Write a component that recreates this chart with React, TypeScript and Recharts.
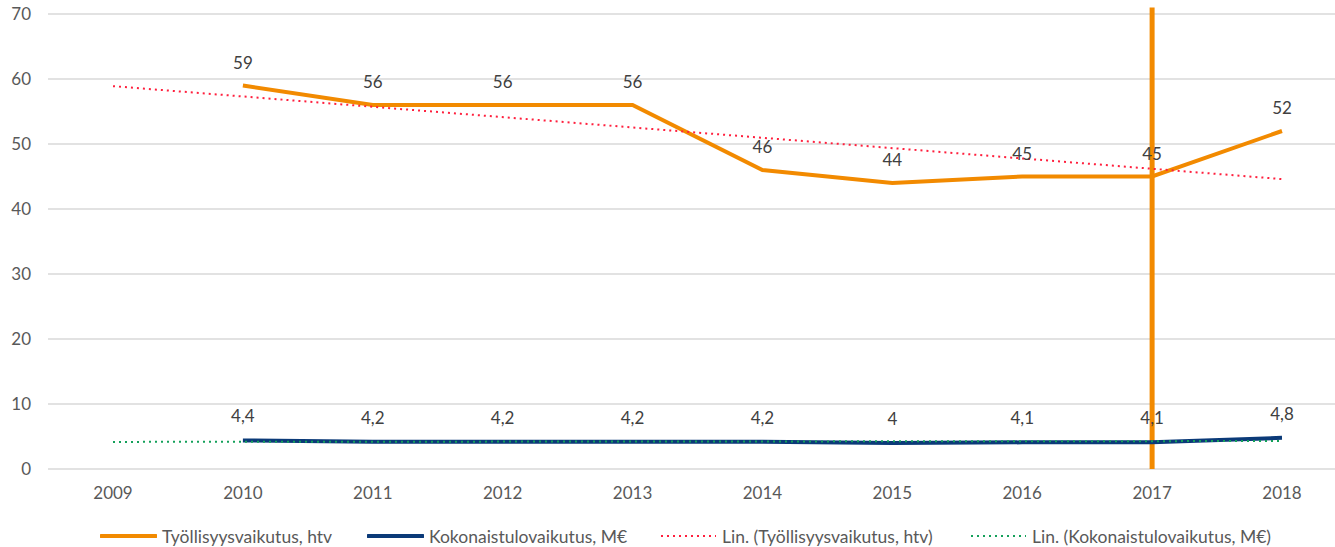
import { LineChart, Line, XAxis, YAxis, CartesianGrid, Legend, LabelList, ReferenceLine } from "recharts";

const years = ["2009", "2010", "2011", "2012", "2013", "2014", "2015", "2016", "2017", "2018"];
const employment = [null, 59, 56, 56, 56, 46, 44, 45, 45, 52];
const income = [null, 4.4, 4.2, 4.2, 4.2, 4.2, 4.0, 4.1, 4.1, 4.8];
// trend lines at their ends
const employmentTrend = [58.9, null, null, null, null, null, null, null, null, 44.6];
const incomeTrend = [4.17, null, null, null, null, null, null, null, null, 4.3];
const yTicks = [0, 10, 20, 30, 40, 50, 60, 70];

const ORANGE = "#F28A00";
const NAVY = "#0B3A78";
const RED = "#FF1F3D";
const GREEN = "#14A05A";
const FONT = "Lato, 'Open Sans', sans-serif";

const data = years.map((year, i) => ({
  year,
  employment: employment[i],
  income: income[i],
  employmentTrend: employmentTrend[i],
  incomeTrend: incomeTrend[i],
}));

const fmt = (v: any) => (v == null ? "" : String(v).replace(".", ","));

const legendItems = [
  { label: "Työllisyysvaikutus, htv", color: ORANGE, dotted: false, left: 100 },
  { label: "Kokonaistulovaikutus, M€", color: NAVY, dotted: false, left: 367 },
  { label: "Lin. (Työllisyysvaikutus, htv)", color: RED, dotted: true, left: 660 },
  { label: "Lin. (Kokonaistulovaikutus, M€)", color: GREEN, dotted: true, left: 970 },
];

const ChartLegend = () => (
  <div style={{ position: "relative", height: 24, fontFamily: FONT, fontSize: 17.5, color: "#595959" }}>
    {legendItems.map((it) => (
      <div key={it.label} style={{ position: "absolute", left: it.left, top: 0, height: 24, display: "flex", alignItems: "center", gap: 5, whiteSpace: "nowrap" }}>
        <svg width={57} height={8}>
          <line
            x1={1}
            y1={4}
            x2={56}
            y2={4}
            stroke={it.color}
            strokeWidth={it.dotted ? 2 : 4}
            strokeDasharray={it.dotted ? "2 4" : undefined}
            strokeLinecap={it.dotted ? "butt" : "round"}
          />
        </svg>
        <span>{it.label}</span>
      </div>
    ))}
  </div>
);

export default function App() {
  return (
    <div style={{ position: "absolute", left: 0, top: 0, width: 1335, height: 547, overflow: "hidden", background: "#fff" }}>
      <LineChart width={1348} height={547} data={data} margin={{ top: 14, right: 1, bottom: 24, left: 0 }}>
        <CartesianGrid vertical={false} stroke="#D9D9D9" strokeWidth={1.5} />
        <XAxis
          dataKey="year"
          axisLine={false}
          tickLine={false}
          height={30}
          tickMargin={12}
          padding={{ left: 65, right: 65 }}
          tick={{ fontSize: 17, fill: "#595959", fontFamily: FONT }}
        />
        <YAxis
          domain={[0, 70]}
          ticks={yTicks}
          width={48}
          axisLine={false}
          tickLine={false}
          tickMargin={11}
          tick={{ fontSize: 17, fill: "#595959", fontFamily: FONT }}
        />
        <ReferenceLine
          segment={[{ x: "2017", y: 0 }, { x: "2017", y: 71 }]}
          stroke={ORANGE}
          strokeWidth={5}
          ifOverflow="visible"
        />
        <Line dataKey="employment" stroke={ORANGE} strokeWidth={4} dot={false} isAnimationActive={false}>
          <LabelList dataKey="employment" position="top" offset={17} formatter={fmt} style={{ fontSize: 17, fill: "#404040", fontFamily: FONT }} />
        </Line>
        <Line dataKey="income" stroke={NAVY} strokeWidth={4} dot={false} isAnimationActive={false}>
          <LabelList dataKey="income" position="top" offset={18} formatter={fmt} style={{ fontSize: 17, fill: "#404040", fontFamily: FONT }} />
        </Line>
        <Line dataKey="employmentTrend" stroke={RED} strokeWidth={2} strokeDasharray="2 4" dot={false} connectNulls isAnimationActive={false} />
        <Line dataKey="incomeTrend" stroke={GREEN} strokeWidth={2} strokeDasharray="2 4" dot={false} connectNulls isAnimationActive={false} />
        <Legend
          verticalAlign="bottom"
          content={() => <ChartLegend />}
          wrapperStyle={{ top: 524, bottom: "auto", left: 0, width: 1335, height: 24 }}
        />
      </LineChart>
    </div>
  );
}
